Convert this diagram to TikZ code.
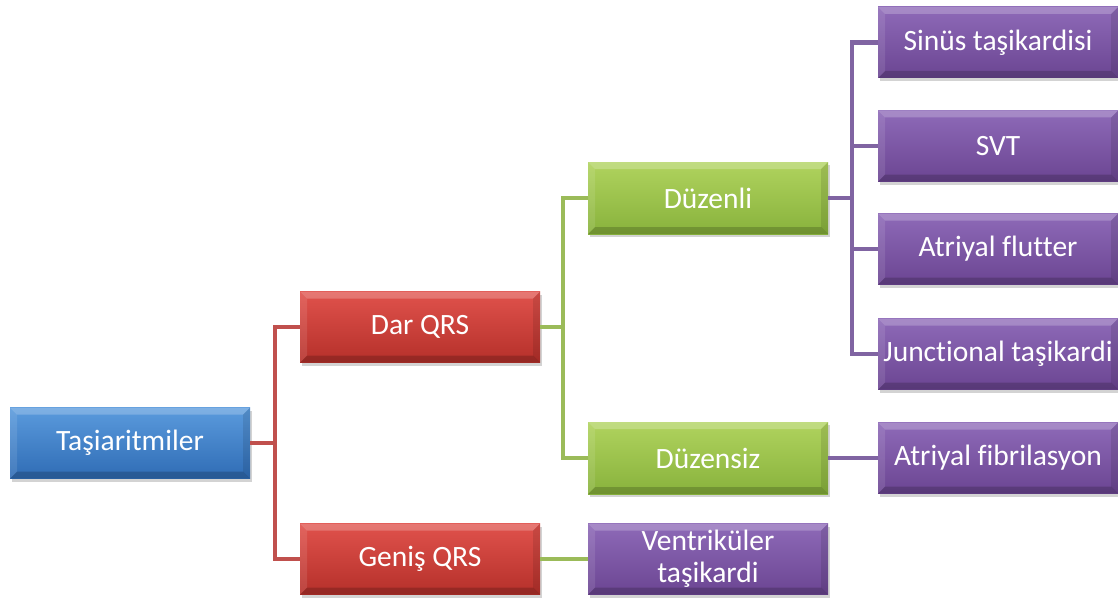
\documentclass[tikz,border=0pt]{standalone}
\usepackage{fontspec}
\setmainfont[Ligatures={NoCommon}]{Carlito}
\usetikzlibrary{shadows}
\definecolor{bl1}{HTML}{5B9BDD}
\definecolor{bl2}{HTML}{2F6CB5}
\definecolor{rd1}{HTML}{E0524C}
\definecolor{rd2}{HTML}{B5302A}
\definecolor{gr1}{HTML}{B0D35E}
\definecolor{gr2}{HTML}{88B23C}
\definecolor{pu1}{HTML}{8E6AB8}
\definecolor{pu2}{HTML}{6B4592}
\definecolor{redline}{HTML}{C0504D}
\definecolor{greenline}{HTML}{9BBB59}
\definecolor{purpleline}{HTML}{8064A2}
\tikzset{
  box/.style={rectangle, minimum width=240pt, minimum height=71pt, inner sep=0pt,
    text=white, align=center, font=\fontsize{29.5}{32}\selectfont,
    drop shadow={opacity=0.35, shadow xshift=2pt, shadow yshift=-3pt},
    path picture={
      \fill[white,opacity=0.22] (path picture bounding box.north west) -- (path picture bounding box.north east)
        -- ([xshift=-7pt,yshift=-7pt]path picture bounding box.north east) -- ([xshift=7pt,yshift=-7pt]path picture bounding box.north west) -- cycle;
      \fill[black,opacity=0.18] (path picture bounding box.south west) -- (path picture bounding box.south east)
        -- ([xshift=-7pt,yshift=7pt]path picture bounding box.south east) -- ([xshift=7pt,yshift=7pt]path picture bounding box.south west) -- cycle;
      \fill[black,opacity=0.10] (path picture bounding box.north east) -- (path picture bounding box.south east)
        -- ([xshift=-7pt,yshift=7pt]path picture bounding box.south east) -- ([xshift=-7pt,yshift=-7pt]path picture bounding box.north east) -- cycle;
      \fill[white,opacity=0.10] (path picture bounding box.north west) -- (path picture bounding box.south west)
        -- ([xshift=7pt,yshift=7pt]path picture bounding box.south west) -- ([xshift=7pt,yshift=-7pt]path picture bounding box.north west) -- cycle;
    }},
  bluebox/.style={box, top color=bl1, bottom color=bl2},
  redbox/.style={box, top color=rd1, bottom color=rd2},
  greenbox/.style={box, top color=gr1, bottom color=gr2},
  purplebox/.style={box, top color=pu1, bottom color=pu2},
  conn/.style={line width=4.5pt, line join=miter},
}
\begin{document}
\begin{tikzpicture}[x=1pt,y=-1pt]
\useasboundingbox (0,0) rectangle (1118,599);
\coordinate (j1) at (275,443);
\coordinate (j2) at (563,327);
\coordinate (j3) at (852,198);
\node[bluebox] (tas) at (130,443) {Taşiaritmiler};
\node[redbox] (dar) at (420,327) {Dar QRS};
\node[redbox] (gen) at (420,559) {Geniş QRS};
\node[greenbox, minimum height=72pt] (duz) at (708,198) {Düzenli};
\node[greenbox, minimum height=72pt] (dzs) at (708,458) {Düzensiz};
\node[purplebox] (vt) at (708,559) {Ventriküler\\taşikardi};
\node[purplebox] (sin) at (998,42.5) {Sinüs taşikardisi};
\node[purplebox] (svt) at (998,146) {SVT};
\node[purplebox] (afl) at (998,249) {Atriyal flutter};
\node[purplebox] (jt) at (998,354) {Junctional taşikardi};
\node[purplebox] (af) at (998,458) {Atriyal fibrilasyon};
\draw[conn, redline] (tas.east) -- (j1);
\draw[conn, redline] (j1) |- (dar.west);
\draw[conn, redline] (j1) |- (gen.west);
\draw[conn, greenline] (dar.east) -- (j2);
\draw[conn, greenline] (j2) |- (duz.west);
\draw[conn, greenline] (j2) |- (dzs.west);
\draw[conn, greenline] (gen.east) -- (vt.west);
\draw[conn, purpleline] (duz.east) -- (j3);
\draw[conn, purpleline] (j3) |- (sin.west);
\draw[conn, purpleline] (j3) |- (svt.west);
\draw[conn, purpleline] (j3) |- (afl.west);
\draw[conn, purpleline] (j3) |- (jt.west);
\draw[conn, purpleline] (dzs.east) -- (af.west);
\end{tikzpicture}
\end{document}
